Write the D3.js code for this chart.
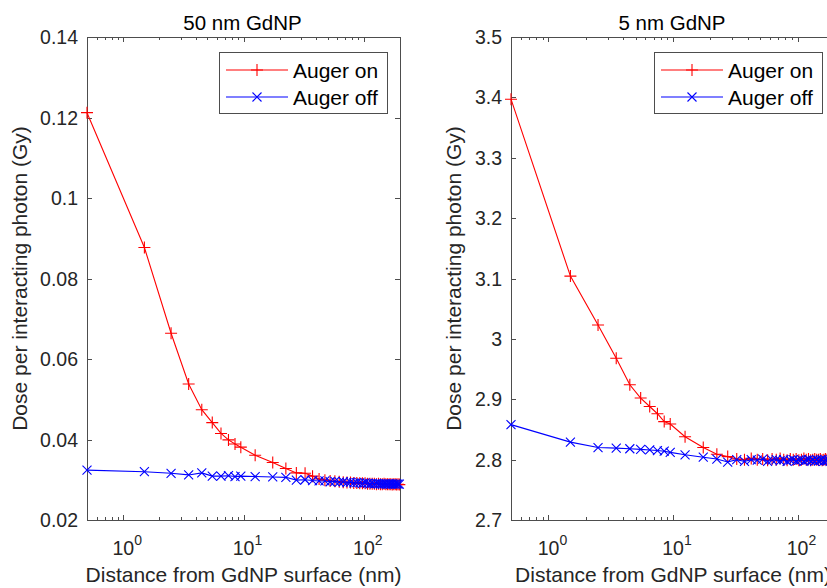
<!DOCTYPE html>
<html>
<head>
<meta charset="utf-8">
<style>
  body { margin: 0; background: #fff; overflow: hidden; }
  svg { display: block; }
</style>
</head>
<body>
<svg width="827" height="588"></svg>

<script src="https://d3js.org/d3.v7.min.js"></script>
<script>

	// Dose vs distance from GdNP surface, Auger on / off, two particle sizes

	// distance from surface (nm), same for every series
	const distances = [0.5, 1.5, 2.5, 3.5, 4.5, 5.5, 6.5, 7.5, 8.5, 9.5,
		12.5, 17.5, 22.5, 27.5, 32.5, 37.5, 42.5, 47.5, 52.5, 57.5,
		62.5, 67.5, 72.5, 77.5, 82.5, 87.5, 92.5, 97.5, 102.5, 107.5,
		112.5, 117.5, 122.5, 127.5, 132.5, 137.5, 142.5, 147.5, 152.5, 157.5,
		162.5, 167.5, 172.5, 177.5, 182.5, 187.5, 192.5, 197.5]

	// 50 nm GdNP
	const np50AugerOn = [0.1212, 0.0877, 0.0664, 0.0538, 0.0474, 0.0442, 0.0415, 0.0399, 0.0389, 0.0381,
		0.0361, 0.0343, 0.0328, 0.0317, 0.0316, 0.0309, 0.0302, 0.0299, 0.0297, 0.0296,
		0.0295, 0.0294, 0.0293, 0.0293, 0.0292, 0.0292, 0.0291, 0.0291, 0.0291, 0.0290,
		0.0290, 0.0290, 0.0290, 0.0289, 0.0290, 0.0289, 0.0289, 0.0290, 0.0289, 0.0289,
		0.0289, 0.0289, 0.0288, 0.0289, 0.0289, 0.0288, 0.0289, 0.0288]
	const np50AugerOff = [0.0324, 0.0320, 0.0316, 0.0312, 0.0317, 0.0309, 0.0309, 0.0310, 0.0308, 0.0309,
		0.0308, 0.0307, 0.0306, 0.0299, 0.0300, 0.0298, 0.0297, 0.0297, 0.0295, 0.0296,
		0.0294, 0.0295, 0.0293, 0.0294, 0.0292, 0.0293, 0.0292, 0.0291, 0.0292, 0.0291,
		0.0290, 0.0291, 0.0290, 0.0291, 0.0290, 0.0290, 0.0289, 0.0290, 0.0290, 0.0289,
		0.0290, 0.0289, 0.0290, 0.0289, 0.0289, 0.0290, 0.0289, 0.0289]

	// 5 nm GdNP
	const np5AugerOn = [3.397, 3.104, 3.023, 2.968, 2.924, 2.902, 2.888, 2.876, 2.863, 2.859,
		2.838, 2.820, 2.809, 2.805, 2.801, 2.800, 2.802, 2.800, 2.801, 2.799,
		2.801, 2.800, 2.802, 2.800, 2.799, 2.801, 2.800, 2.801, 2.799, 2.800,
		2.802, 2.800, 2.801, 2.799, 2.800, 2.801, 2.800, 2.800, 2.801, 2.799,
		2.800, 2.801, 2.800, 2.799, 2.801, 2.800, 2.800, 2.801]
	const np5AugerOff = [2.858, 2.829, 2.820, 2.819, 2.818, 2.817, 2.816, 2.815, 2.814, 2.812,
		2.808, 2.804, 2.801, 2.796, 2.800, 2.797, 2.800, 2.799, 2.801, 2.797,
		2.799, 2.800, 2.798, 2.800, 2.797, 2.799, 2.800, 2.798, 2.799, 2.800,
		2.797, 2.799, 2.800, 2.798, 2.799, 2.797, 2.800, 2.798, 2.799, 2.800,
		2.797, 2.799, 2.798, 2.800, 2.797, 2.799, 2.798, 2.799]

	const xDomain = [0.5, 200]
	const xMajorTicks = [1, 10, 100]
	const xMajorExp = ["0", "1", "2"]
	const yTicks50 = [0.02, 0.04, 0.06, 0.08, 0.1, 0.12, 0.14]
	const yTicks5 = [2.7, 2.8, 2.9, 3, 3.1, 3.2, 3.3, 3.4, 3.5]
	const seriesNames = ["Auger on", "Auger off"]

	const font = "'Liberation Sans', Arial, sans-serif"
	const axisColor = "#4d4d4d"
	const textColor = "#262626"

	const svg = d3.select("svg")
		.attr("font-family", font)

	const plusPath = "M-6,0H6M0,-6V6"
	const crossPath = "M-4.5,-4.5L4.5,4.5M-4.5,4.5L4.5,-4.5"

	// draw one panel
	function drawPanel(opts) {
		const {left, right, top, bottom, title, yDomain, yTicks, on, off, ylabelGap} = opts

		const x = d3.scaleLog().domain(xDomain).range([left, right])
		const y = d3.scaleLinear().domain(yDomain).range([bottom, top])

		const g = svg.append("g")

		// axes box
		g.append("rect")
			.attr("x", left + 0.5).attr("y", top + 0.5)
			.attr("width", right - left).attr("height", bottom - top)
			.attr("fill", "none")
			.attr("stroke", axisColor)
			.attr("stroke-width", 1)

		// x ticks (minor + major), inward, bottom and top
		const allX = x.ticks().filter(d => d >= xDomain[0] && d <= xDomain[1])
		allX.forEach(d => {
			const major = xMajorTicks.includes(d)
			const len = major ? 5 : 3
			const px = Math.round(x(d)) + 0.5
			g.append("line")
				.attr("x1", px).attr("x2", px)
				.attr("y1", bottom).attr("y2", bottom - len)
				.attr("stroke", axisColor)
			g.append("line")
				.attr("x1", px).attr("x2", px)
				.attr("y1", top).attr("y2", top + len)
				.attr("stroke", axisColor)
		})

		// x tick labels 10^n
		xMajorTicks.forEach((d, i) => {
			const t = g.append("text")
				.attr("x", x(d) + 4)
				.attr("y", 555)
				.attr("text-anchor", "middle")
				.attr("font-size", 19.5)
				.attr("fill", textColor)
			t.append("tspan").text("10")
			t.append("tspan")
				.attr("dy", -10)
				.attr("font-size", 14)
				.text(xMajorExp[i])
		})

		// y ticks, both sides
		yTicks.forEach(d => {
			const py = Math.round(y(d)) + 0.5
			g.append("line")
				.attr("x1", left).attr("x2", left + 5)
				.attr("y1", py).attr("y2", py)
				.attr("stroke", axisColor)
			g.append("line")
				.attr("x1", right).attr("x2", right - 5)
				.attr("y1", py).attr("y2", py)
				.attr("stroke", axisColor)
			g.append("text")
				.attr("x", left - 9)
				.attr("y", y(d))
				.attr("dy", "0.36em")
				.attr("text-anchor", "end")
				.attr("font-size", 19.5)
				.attr("fill", textColor)
				.text(d3.format("~g")(d))
		})

		// title
		g.append("text")
			.attr("x", (left + right) / 2 - 1)
			.attr("y", 30)
			.attr("text-anchor", "middle")
			.attr("font-size", 20.5)
			.attr("fill", "#000")
			.text(title)

		// axis labels
		g.append("text")
			.attr("x", (left + right) / 2)
			.attr("y", 582)
			.attr("text-anchor", "middle")
			.attr("font-size", 21)
			.attr("fill", textColor)
			.text("Distance from GdNP surface (nm)")

		g.append("text")
			.attr("transform", `translate(${left - ylabelGap},${(top + bottom) / 2}) rotate(-90)`)
			.attr("text-anchor", "middle")
			.attr("font-size", 21)
			.attr("fill", textColor)
			.text("Dose per interacting photon (Gy)")

		// clip the series to the axes
		const clipId = "clip" + left
		g.append("clipPath").attr("id", clipId)
			.append("rect")
			.attr("x", left - 8).attr("y", top)
			.attr("width", right - left + 16).attr("height", bottom - top)

		const line = d3.line()
			.x(d => x(d[0]))
			.y(d => y(d[1]))

		const series = [
			{name: seriesNames[0], color: "#ff0000", marker: plusPath, values: on},
			{name: seriesNames[1], color: "#0000ff", marker: crossPath, values: off}
		]

		const plot = g.append("g").attr("clip-path", `url(#${clipId})`)

		series.forEach(s => {
			const pts = distances.map((d, i) => [d, s.values[i]])
			plot.append("path")
				.datum(pts)
				.attr("d", line)
				.attr("fill", "none")
				.attr("stroke", s.color)
				.attr("stroke-width", 1.1)
			plot.selectAll(null)
				.data(pts)
				.join("path")
				.attr("transform", d => `translate(${x(d[0])},${y(d[1])})`)
				.attr("d", s.marker)
				.attr("fill", "none")
				.attr("stroke", s.color)
				.attr("stroke-width", 1.1)
		})

		// legend
		const lx = right - 181
		const ly = top + 15
		const leg = g.append("g")
		leg.append("rect")
			.attr("x", lx + 0.5).attr("y", ly + 0.5)
			.attr("width", 168).attr("height", 61)
			.attr("fill", "#fff")
			.attr("stroke", axisColor)
		series.forEach((s, i) => {
			const ry = ly + 18 + i * 27
			leg.append("line")
				.attr("x1", lx + 7).attr("x2", lx + 69)
				.attr("y1", ry).attr("y2", ry)
				.attr("stroke", s.color)
				.attr("stroke-width", 1.1)
			leg.append("path")
				.attr("transform", `translate(${lx + 38},${ry})`)
				.attr("d", s.marker)
				.attr("stroke", s.color)
				.attr("stroke-width", 1.1)
			leg.append("text")
				.attr("x", lx + 74)
				.attr("y", ry)
				.attr("dy", "0.36em")
				.attr("font-size", 21)
				.attr("fill", "#000")
				.text(s.name)
		})
	}

	drawPanel({
		left: 87, right: 400, top: 37, bottom: 520,
		title: "50 nm GdNP",
		yDomain: [0.02, 0.14], yTicks: yTicks50,
		on: np50AugerOn, off: np50AugerOff,
		ylabelGap: 60
	})

	drawPanel({
		left: 511, right: 835, top: 37, bottom: 520,
		title: "5 nm GdNP",
		yDomain: [2.7, 3.5], yTicks: yTicks5,
		on: np5AugerOn, off: np5AugerOff,
		ylabelGap: 50
	})

</script>
</body>
</html>
